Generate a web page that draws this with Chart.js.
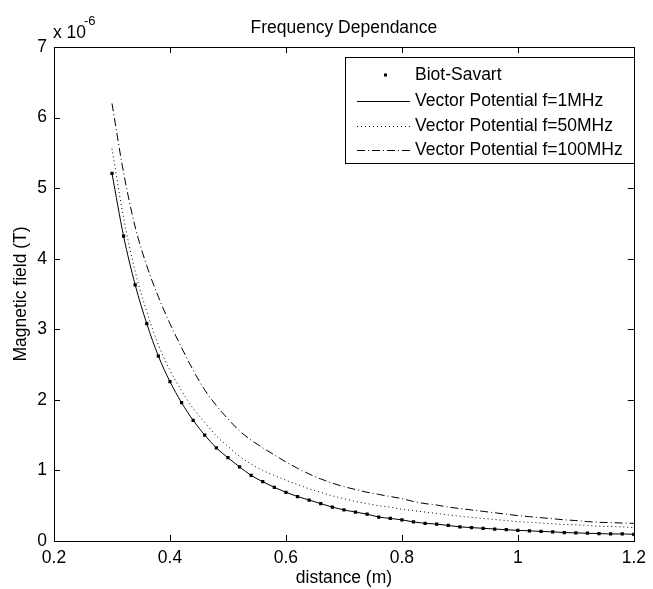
<!DOCTYPE html>
<html>
<head>
<meta charset="utf-8">
<script src="https://cdn.jsdelivr.net/npm/chart.js@4.4.0/dist/chart.umd.min.js"></script>
<style>
  html, body { margin: 0; padding: 0; background: #fff; }
</style>
</head>
<body>
<canvas id="chart" width="653" height="589"></canvas>
<script>
// distance (m)
const distance = [
  0.30, 0.32, 0.34, 0.36, 0.38, 0.40, 0.42, 0.44, 0.46, 0.48,
  0.50, 0.52, 0.54, 0.56, 0.58, 0.60, 0.62, 0.64, 0.66, 0.68,
  0.70, 0.72, 0.74, 0.76, 0.78, 0.80, 0.82, 0.84, 0.86, 0.88,
  0.90, 0.92, 0.94, 0.96, 0.98, 1.00, 1.02, 1.04, 1.06, 1.08,
  1.10, 1.12, 1.14, 1.16, 1.18, 1.20
];
// magnetic field, in units of 1e-6 T
const biotSavart = [
  5.21, 4.32, 3.63, 3.08, 2.62, 2.26, 1.96, 1.71, 1.50, 1.32,
  1.18, 1.05, 0.93, 0.84, 0.76, 0.69, 0.63, 0.58, 0.53, 0.48,
  0.44, 0.41, 0.38, 0.34, 0.32, 0.30, 0.27, 0.25, 0.24, 0.22,
  0.20, 0.19, 0.18, 0.17, 0.16, 0.15, 0.145, 0.135, 0.13, 0.12,
  0.115, 0.11, 0.105, 0.10, 0.10, 0.095
];
const vp1MHz = [
  5.21, 4.32, 3.63, 3.08, 2.62, 2.26, 1.96, 1.71, 1.50, 1.32,
  1.18, 1.05, 0.93, 0.84, 0.76, 0.69, 0.63, 0.58, 0.53, 0.48,
  0.44, 0.41, 0.38, 0.34, 0.32, 0.30, 0.27, 0.25, 0.24, 0.22,
  0.20, 0.19, 0.18, 0.17, 0.16, 0.15, 0.145, 0.135, 0.13, 0.12,
  0.115, 0.11, 0.105, 0.10, 0.10, 0.095
];
const vp50MHz = [
  5.56, 4.58, 3.82, 3.25, 2.78, 2.42, 2.13, 1.88, 1.68, 1.49,
  1.34, 1.20, 1.09, 1.00, 0.93, 0.86, 0.80, 0.74, 0.69, 0.64,
  0.60, 0.56, 0.53, 0.50, 0.48, 0.45, 0.43, 0.41, 0.39, 0.37,
  0.35, 0.335, 0.32, 0.305, 0.29, 0.275, 0.265, 0.255, 0.245, 0.235,
  0.23, 0.22, 0.21, 0.205, 0.20, 0.19
];
const vp100MHz = [
  6.20, 5.22, 4.45, 3.90, 3.46, 3.08, 2.74, 2.42, 2.14, 1.92,
  1.73, 1.56, 1.43, 1.32, 1.22, 1.12, 1.03, 0.95, 0.88, 0.82,
  0.77, 0.73, 0.69, 0.66, 0.63, 0.60, 0.56, 0.53, 0.51, 0.48,
  0.46, 0.44, 0.42, 0.40, 0.38, 0.36, 0.345, 0.33, 0.315, 0.30,
  0.29, 0.275, 0.265, 0.26, 0.255, 0.25
];
const seriesNames = ['Biot-Savart', 'Vector Potential f=1MHz', 'Vector Potential f=50MHz', 'Vector Potential f=100MHz'];
const xTicks = [0.2, 0.4, 0.6, 0.8, 1, 1.2];
const xTickLabels = ['0.2', '0.4', '0.6', '0.8', '1', '1.2'];
const yTicks = [0, 1, 2, 3, 4, 5, 6, 7];
const yTickLabels = ['0', '1', '2', '3', '4', '5', '6', '7'];

const FONT = 'Arial, "Liberation Sans", Helvetica, sans-serif';
const font17 = { family: FONT, size: 17.5 };
const toPoints = arr => distance.map((x, i) => ({ x: x, y: arr[i] }));

const dashes = [[], [], [1, 3], [8, 3, 1, 3]];

// box, inward ticks, exponent, title and legend drawn on top
const matlabDecor = {
  id: 'matlabDecor',
  afterDraw(chart) {
    const ctx = chart.ctx;
    const a = chart.chartArea;
    const xs = chart.scales.x, ys = chart.scales.y;
    ctx.save();
    ctx.strokeStyle = '#000';
    ctx.lineWidth = 1;
    ctx.strokeRect(Math.round(a.left) + 0.5, Math.round(a.top) + 0.5,
      Math.round(a.right - a.left), Math.round(a.bottom - a.top));
    ctx.beginPath();
    xTicks.forEach(v => {
      const px = Math.round(xs.getPixelForValue(v)) + 0.5;
      ctx.moveTo(px, a.bottom); ctx.lineTo(px, a.bottom - 6);
      ctx.moveTo(px, a.top); ctx.lineTo(px, a.top + 6);
    });
    yTicks.forEach(v => {
      const py = Math.round(ys.getPixelForValue(v)) + 0.5;
      ctx.moveTo(a.left, py); ctx.lineTo(a.left + 6, py);
      ctx.moveTo(a.right, py); ctx.lineTo(a.right - 6, py);
    });
    ctx.stroke();

    ctx.fillStyle = '#000';
    ctx.font = '17.5px ' + FONT;
    ctx.textBaseline = 'alphabetic';
    ctx.textAlign = 'center';
    ctx.fillText('Frequency Dependance', (a.left + a.right) / 2, 33);
    ctx.textAlign = 'left';
    ctx.fillText('x 10', 53, 38);
    ctx.font = '13px ' + FONT;
    ctx.fillText('-6', 84, 25);

    // legend
    const lx = 345, ly = 57, lw = 289, lh = 106;
    ctx.fillStyle = '#fff';
    ctx.fillRect(lx, ly, lw, lh);
    ctx.strokeRect(lx + 0.5, ly + 0.5, lw, lh);
    const rows = [75, 101, 126, 150];
    ctx.font = '17.5px ' + FONT;
    ctx.textBaseline = 'middle';
    seriesNames.forEach((name, i) => {
      const y = rows[i];
      if (i === 0) {
        ctx.fillStyle = '#000';
        ctx.fillRect(384, y - 1.5, 3, 3);
      } else {
        ctx.setLineDash(dashes[i]);
        ctx.beginPath();
        ctx.moveTo(357, y + 0.5);
        ctx.lineTo(410, y + 0.5);
        ctx.stroke();
        ctx.setLineDash([]);
      }
      ctx.fillStyle = '#000';
      ctx.fillText(name, 415, y);
    });
    ctx.restore();
  }
};

const lineSet = (label, arr, i) => ({
  label: label,
  data: toPoints(arr),
  showLine: true,
  borderColor: '#000',
  borderWidth: 1,
  borderDash: dashes[i],
  pointRadius: 0,
  cubicInterpolationMode: 'monotone',
  fill: false
});

new Chart(document.getElementById('chart'), {
  type: 'scatter',
  data: {
    datasets: [
      lineSet(seriesNames[1], vp1MHz, 1),
      lineSet(seriesNames[2], vp50MHz, 2),
      lineSet(seriesNames[3], vp100MHz, 3),
      {
        label: seriesNames[0],
        data: toPoints(biotSavart),
        showLine: false,
        pointStyle: 'rect',
        pointRadius: 2.3,
        borderWidth: 0,
        backgroundColor: '#000',
        borderColor: '#000'
      }
    ]
  },
  plugins: [matlabDecor],
  options: {
    responsive: false,
    animation: false,
    layout: { padding: { top: 47, right: 11, left: 0, bottom: 0 } },
    plugins: {
      legend: { display: false },
      title: { display: false },
      tooltip: { enabled: false }
    },
    scales: {
      x: {
        type: 'linear',
        min: 0.2,
        max: 1.2,
        afterFit: s => { s.height = 48; },
        afterBuildTicks: s => { s.ticks = xTicks.map(v => ({ value: v })); },
        ticks: {
          callback: (v, i) => xTickLabels[i],
          font: font17,
          color: '#000',
          padding: 7,
          maxRotation: 0,
          autoSkip: false
        },
        grid: { display: false, drawTicks: false },
        border: { display: false },
        title: { display: true, text: 'distance (m)', font: font17, color: '#000', padding: 0 }
      },
      y: {
        min: 0,
        max: 7,
        afterFit: s => { s.width = 54; },
        afterBuildTicks: s => { s.ticks = yTicks.map(v => ({ value: v })); },
        ticks: {
          callback: (v, i) => yTickLabels[i],
          font: font17,
          color: '#000',
          padding: 7,
          autoSkip: false
        },
        grid: { display: false, drawTicks: false },
        border: { display: false },
        title: { display: true, text: 'Magnetic field (T)', font: font17, color: '#000', padding: { top: 11, bottom: 0 } }
      }
    }
  }
});
</script>
</body>
</html>
